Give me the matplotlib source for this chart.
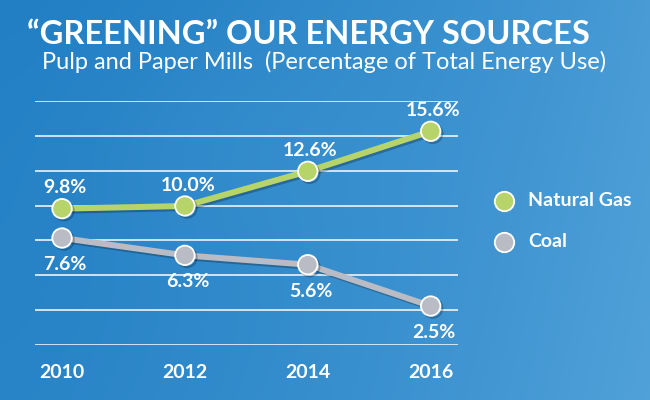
import matplotlib
matplotlib.use("Agg")
import matplotlib.pyplot as plt
import matplotlib.patheffects as pe
import numpy as np

# data
years = [2010, 2012, 2014, 2016]
natural_gas = [9.8, 10.0, 12.6, 15.6]
coal = [7.6, 6.3, 5.6, 2.5]
gas_labels = ["9.8%", "10.0%", "12.6%", "15.6%"]
coal_labels = ["7.6%", "6.3%", "5.6%", "2.5%"]

green = '#b7d46b'
grey = '#b9bcc4'
font = 'Lato'

fig = plt.figure(figsize=(6.5, 4), dpi=100)

# sky background: smooth gradient, darker on the left, lighter to the right
bg = fig.add_axes([0, 0, 1, 1])
gx, gy = np.meshgrid(np.linspace(0, 1, 260), np.linspace(0, 1, 160))
t = np.clip(0.75 * gx ** 1.5 + 0.15 * gy + 0.1 * np.exp(-((gx - 0.35) ** 2 + (gy - 0.35) ** 2) * 12), 0, 1)
c0 = np.array([0x22, 0x7f, 0xc4]) / 255
c1 = np.array([0x55, 0xa5, 0xdb]) / 255
img = c0[None, None, :] * (1 - t[..., None]) + c1[None, None, :] * t[..., None]
bg.imshow(img, aspect='auto', extent=[0, 1, 0, 1], origin='upper')
bg.set_axis_off()

ax = fig.add_axes([0.0538, 0.1375, 0.6504, 0.61])
ax.patch.set_alpha(0)
ax.set_xlim(2009.56, 2016.44)
ax.set_ylim(-0.42, 17.87)
ax.set_yticks(np.linspace(-0.42, 17.87, 8))
ax.set_yticklabels([])
ax.grid(True, axis='y', color='white', linewidth=1.2, alpha=0.9)
ax.tick_params(axis='y', length=0)
ax.set_xticks(years)
ax.set_xticklabels([str(y) for y in years], color='white', fontsize=14,
                   fontweight='bold', family=font)
ax.tick_params(axis='x', length=0, pad=14)
for s in ax.spines.values():
    s.set_visible(False)

shadow = [pe.SimpleLineShadow(offset=(1.5, -1.5), alpha=0.25), pe.Normal()]
ax.plot(years, coal, color=grey, linewidth=4.3, marker='o', markersize=14,
        markerfacecolor=grey, markeredgecolor='white', markeredgewidth=1.3,
        path_effects=shadow, zorder=3)
ax.plot(years, natural_gas, color=green, linewidth=4.3, marker='o', markersize=14,
        markerfacecolor=green, markeredgecolor='white', markeredgewidth=1.3,
        path_effects=shadow, zorder=4)

for x, v, lab in zip(years, natural_gas, gas_labels):
    ax.annotate(lab, (x, v), xytext=(2, 15), textcoords='offset points',
                ha='center', va='center', color='white', fontsize=14,
                fontweight='bold', family=font)
for x, v, lab in zip(years, coal, coal_labels):
    ax.annotate(lab, (x, v), xytext=(2, -19), textcoords='offset points',
                ha='center', va='center', color='white', fontsize=14,
                fontweight='bold', family=font)

fig.text(0.0415, 0.915, '\u201cGREENING\u201d OUR ENERGY SOURCES', color='white',
         fontsize=23.5, fontweight='bold', family=font, va='center', ha='left')
fig.text(0.064, 0.845, 'Pulp and Paper Mills  (Percentage of Total Energy Use)',
         color='white', fontsize=17, family=font, va='center', ha='left')

# legend drawn by hand on the right
lg = fig.add_axes([0, 0, 1, 1])
lg.set_xlim(0, 650)
lg.set_ylim(400, 0)
lg.set_axis_off()
for yy, col, name in [(201, green, 'Natural Gas'), (241.5, grey, 'Coal')]:
    lg.plot([504], [yy], marker='o', markersize=14, color=col,
            markeredgecolor='white', markeredgewidth=1.3)
    lg.text(528, yy, name, color='white', fontsize=14, fontweight='bold',
            family=font, va='center', ha='left')

fig.savefig('out.png', dpi=100)
